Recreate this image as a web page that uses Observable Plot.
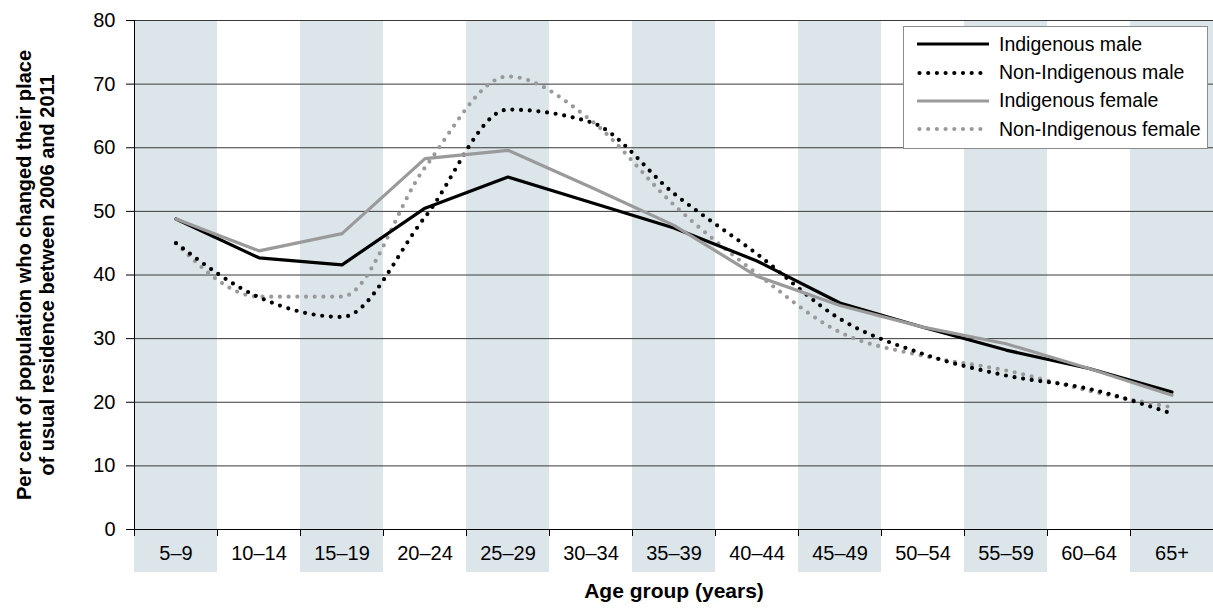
<!DOCTYPE html>
<html>
<head>
<meta charset="utf-8">
<script src="https://cdn.jsdelivr.net/npm/d3@7"></script>
<script src="https://cdn.jsdelivr.net/npm/@observablehq/plot@0.6"></script>
<style>
  html, body { margin: 0; padding: 0; background: #fff; }
  #wrap { position: relative; width: 1213px; height: 611px; font-family: "Liberation Sans", Arial, sans-serif; }
  #legend { position: absolute; left: 903px; top: 26px; width: 305px; height: 123px; border: 1px solid #8c8c8c; background: #fff; box-sizing: border-box; }
  #legend .row { position: absolute; left: 0; height: 28px; display: flex; align-items: center; font-size: 19.5px; color: #000; white-space: nowrap; }
  #legend svg { margin-left: 13px; margin-right: 10px; }
</style>
</head>
<body>
<div id="wrap"></div>
<script>
const ages = ["5–9","10–14","15–19","20–24","25–29","30–34","35–39","40–44","45–49","50–54","55–59","60–64","65+"];
const indigenousMale    = [48.8, 42.7, 41.6, 50.5, 55.4, 51.4, 47.4, 42.2, 35.6, 31.8, 28.2, 25.3, 21.6];
const nonIndigenousMale = [45.0, 36.5, 33.4, 49.1, 66.0, 64.0, 52.8, 43.3, 33.1, 27.6, 24.2, 22.1, 18.2];
const indigenousFemale  = [48.8, 43.8, 46.5, 58.3, 59.6, 53.8, 47.8, 39.8, 35.2, 31.8, 29.2, 25.3, 21.1];
const nonIndigenousFemale = [45.0, 36.6, 36.6, 56.9, 71.2, 64.3, 51.0, 40.2, 31.0, 27.3, 25.0, 21.8, 19.2];
const yTicks = [0, 10, 20, 30, 40, 50, 60, 70, 80];
const seriesNames = ["Indigenous male", "Non-Indigenous male", "Indigenous female", "Non-Indigenous female"];
const yTitle = "Per cent of population who changed their place\nof usual residence between 2006 and 2011";
const xTitle = "Age group (years)";

const toRows = (vals) => vals.map((v, i) => ({i, v}));
const shaded = ages.map((_, i) => i).filter(i => i % 2 === 0);

const dotStyle = {strokeWidth: 4.2, strokeDasharray: "0 8.7", strokeLinecap: "round", curve: "monotone-x"};

const chart = Plot.plot({
  width: 1213, height: 611,
  marginLeft: 134, marginRight: 0, marginTop: 20, marginBottom: 82,
  x: {type: "linear", domain: [0, ages.length]},
  y: {domain: [0, 80]},
  style: {fontFamily: "'Liberation Sans', Arial, sans-serif", fontSize: "20px", color: "#000", background: "#fff", overflow: "visible"},
  marks: [
    Plot.rect(shaded, {x1: d => d, x2: d => d + 1, fill: "#dce6ea", insetBottom: -43}),
    Plot.ruleY(yTicks.filter(v => v > 0), {stroke: "#3a3a3a", strokeWidth: 1}),
    Plot.ruleY([0], {stroke: "#000", strokeWidth: 1}),
    Plot.ruleX([0], {stroke: "#000", strokeWidth: 1}),
    Plot.axisY({ticks: yTicks, tickSize: 8, tickPadding: 11, label: null, fontSize: 20}),
    Plot.axisX({ticks: d3.range(0, ages.length + 1), tickSize: 7, tickFormat: () => "", label: null}),
    Plot.axisX({ticks: ages.map((_, i) => i + 0.5), tickFormat: v => ages[Math.floor(v)], tickSize: 0, tickPadding: 16, label: null, fontSize: 20}),
    Plot.line(toRows(nonIndigenousFemale), {x: d => d.i + 0.5, y: "v", stroke: "#9a9a9a", ...dotStyle}),
    Plot.line(toRows(nonIndigenousMale), {x: d => d.i + 0.5, y: "v", stroke: "#000", ...dotStyle}),
    Plot.line(toRows(indigenousMale), {x: d => d.i + 0.5, y: "v", stroke: "#000", strokeWidth: 3.2}),
    Plot.line(toRows(indigenousFemale), {x: d => d.i + 0.5, y: "v", stroke: "#9a9a9a", strokeWidth: 3.2}),
    Plot.text([yTitle], {frameAnchor: "left", rotate: -90, dx: -99, fontWeight: "bold", fontSize: 20, lineHeight: 1.12, textAnchor: "middle"}),
    Plot.text([xTitle], {frameAnchor: "bottom", dy: 68, fontWeight: "bold", fontSize: 21})
  ]
});

const wrap = document.getElementById("wrap");
wrap.appendChild(chart);

const legend = document.createElement("div");
legend.id = "legend";
const styles = [
  {stroke: "#000", dash: null},
  {stroke: "#000", dash: "0 8.7"},
  {stroke: "#9a9a9a", dash: null},
  {stroke: "#9a9a9a", dash: "0 8.7"}
];
seriesNames.forEach((name, k) => {
  const row = document.createElement("div");
  row.className = "row";
  row.style.top = (3.3 + k * 28.3) + "px";
  const s = styles[k];
  row.innerHTML = `<svg width="72" height="10"><line x1="${s.dash ? 2.5 : 0}" x2="${s.dash ? 70 : 72}" y1="5" y2="5" stroke="${s.stroke}" stroke-width="${s.dash ? 4.2 : 3.2}" ${s.dash ? `stroke-dasharray="${s.dash}" stroke-linecap="round"` : ""}/></svg><span>${name}</span>`;
  legend.appendChild(row);
});
wrap.appendChild(legend);
</script>
</body>
</html>
